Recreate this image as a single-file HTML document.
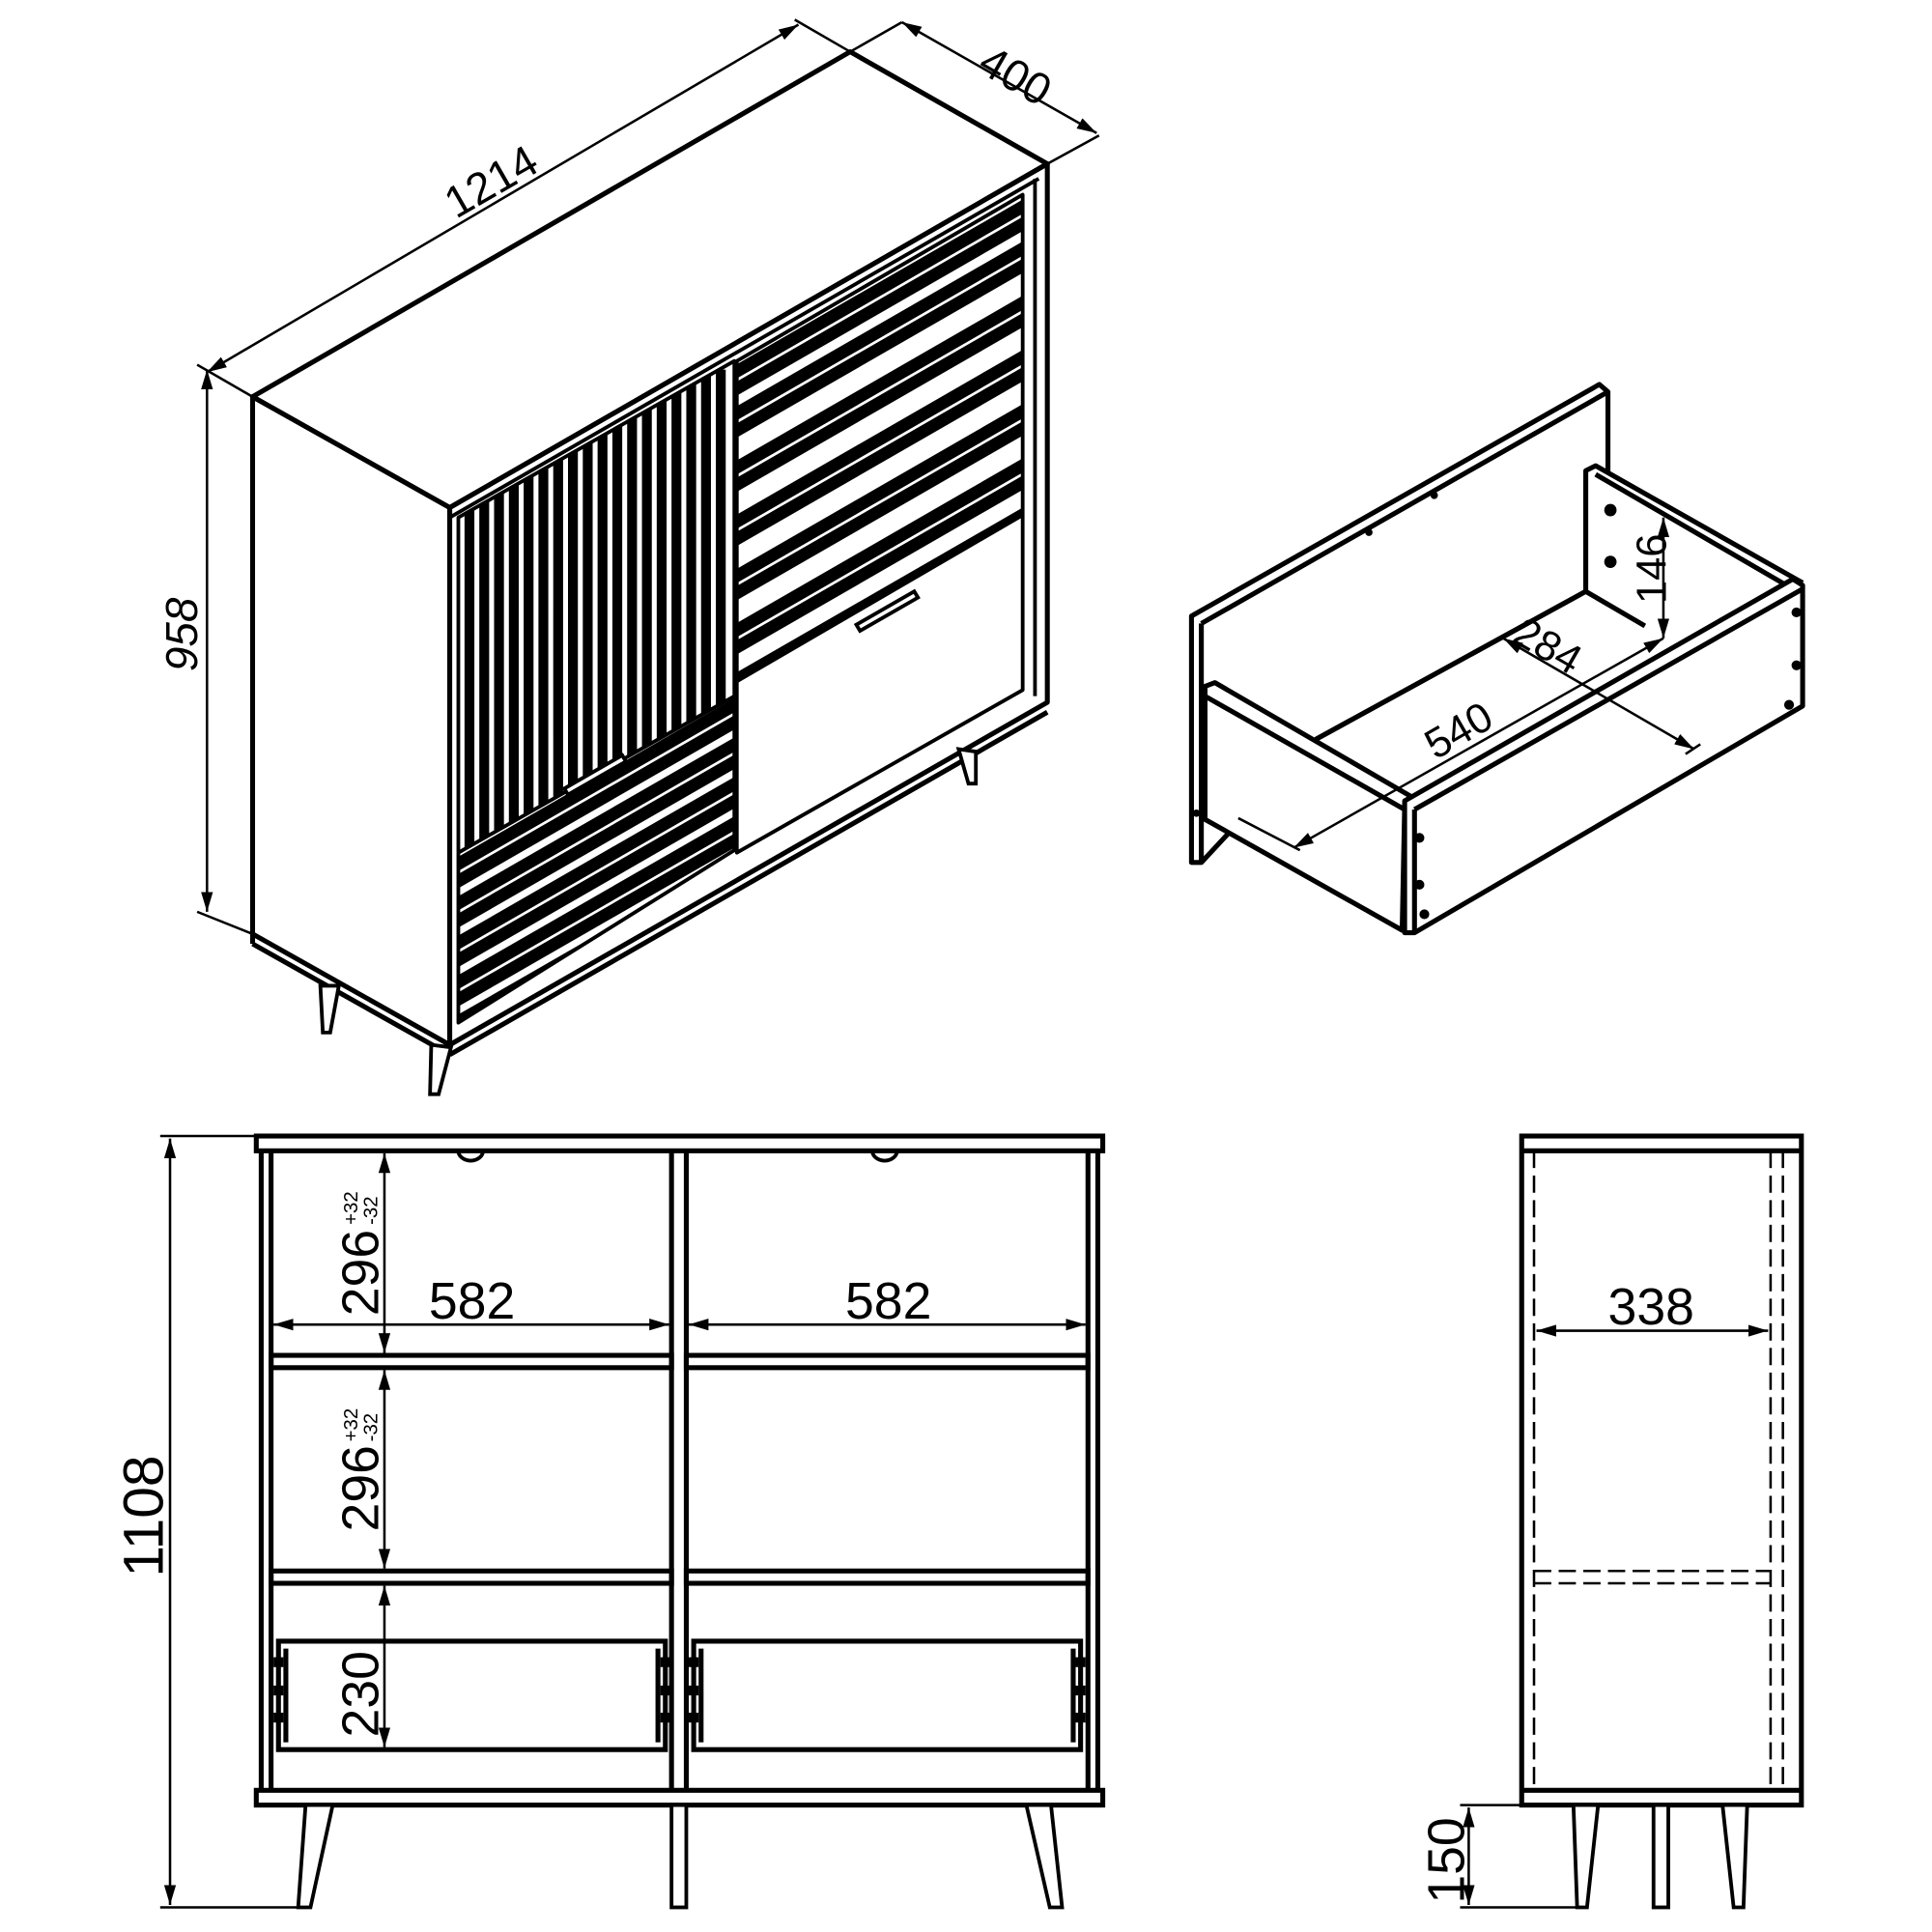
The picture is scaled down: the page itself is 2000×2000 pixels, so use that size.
<!DOCTYPE html>
<html><head><meta charset="utf-8"><style>
html,body{margin:0;padding:0;background:#fff}
svg{display:block}
text{font-family:"Liberation Sans","DejaVu Sans",sans-serif;fill:#000}
</style></head><body>
<svg width="2000" height="2000" viewBox="0 0 1568 1568" xmlns="http://www.w3.org/2000/svg">
<defs>
<marker id="a" viewBox="0 0 10 10" refX="10" refY="5" markerWidth="8" markerHeight="8" orient="auto-start-reverse"><path d="M0,2 L10,5 L0,8 z" fill="#000"/></marker>
<clipPath id="c1"><polygon points="372,420 596,293 596,565 372,692"/></clipPath>
<clipPath id="c2"><polygon points="372,692 596,565 596,690 372,830"/></clipPath>
<clipPath id="c3"><polygon points="598,293 830,158 830,418 598,553"/></clipPath>
</defs>
<g fill="none" stroke="#000" stroke-width="4" stroke-linejoin="round">
<polygon points="205,322 690,42 850,133 365,412" fill="#fff"/>
<polygon points="205,322 365,412 365,848 205,758" fill="#fff"/>
<polygon points="365,412 850,133 850,570 365,848" fill="#fff"/>
<line x1="365" y1="420" x2="843" y2="145" stroke-width="3"/>
<polygon points="372,420 596,293 596,690 372,830" fill="#fff" stroke-width="3"/>
<polygon points="598,293 830,158 830,560 598,692" fill="#fff" stroke-width="3"/>
<line x1="598" y1="553" x2="830" y2="418" stroke-width="3"/>
<line x1="372" y1="692" x2="596" y2="565" stroke-width="3"/>
<line x1="840" y1="145" x2="840" y2="565" stroke-width="3"/>
<line x1="205" y1="758" x2="205" y2="766" />
<line x1="205" y1="766" x2="365" y2="856"/>
<line x1="365" y1="856" x2="850" y2="578"/>
</g>
<g stroke="#000" stroke-width="8" clip-path="url(#c1)">
<path d="M381 300V830M393 300V830M405 300V830M417 300V830M429 300V830M441 300V830M453 300V830M465 300V830M477 300V830M489 300V830M501 300V830M513 300V830M525 300V830M537 300V830M549 300V830M561 300V830M573 300V830M585 300V830"/>
</g>
<g stroke="#000" stroke-width="10" clip-path="url(#c2)">
<path d="M360 708L600 570M360 722L600 584M360 740L600 602M360 754L600 616M360 772L600 634M360 786L600 648M360 804L600 666M360 818L600 680M360 836L600 698"/>
</g>
<g stroke="#000" stroke-width="10" clip-path="url(#c3)">
<path d="M590 306L840 162M590 320L840 176M590 340L840 196M590 354L840 210M590 384L840 240M590 398L840 254M590 428L840 284M590 442L840 298M590 472L840 328M590 486L840 342M590 516L840 372M590 530L840 386M590 556L840 412"/>
</g>
<g fill="#fff" stroke="#000" stroke-width="3">
<polygon points="458,640 505,613 508,618 461,645"/>
<polygon points="695,507 742,480 745,485 698,512"/>
<polygon points="260,800 275,800 268,838 262,838"/>
<polygon points="350,848 366,850 356,888 349,888"/>
<polygon points="778,608 792,610 792,636 786,636"/>
</g>
<g stroke="#000" stroke-width="2" fill="none">
<line x1="168" y1="302" x2="648" y2="20" marker-start="url(#a)" marker-end="url(#a)"/>
<line x1="160" y1="296" x2="205" y2="322"/><line x1="645" y1="16" x2="690" y2="42"/>
<line x1="690" y1="42" x2="732" y2="18"/><line x1="850" y1="133" x2="892" y2="110"/>
<line x1="732" y1="18" x2="890" y2="108" marker-start="url(#a)" marker-end="url(#a)"/>
<line x1="168" y1="300" x2="168" y2="740" marker-start="url(#a)" marker-end="url(#a)"/>
<line x1="160" y1="740" x2="205" y2="758"/>
</g>
<text x="0" y="0" font-size="36" transform="translate(370,178) rotate(-30)">1214</text>
<text x="0" y="0" font-size="36" transform="translate(792,57) rotate(30)">400</text>
<text x="0" y="0" font-size="36" transform="translate(160,545) rotate(-90)" font-style="italic">958</text>

<!-- drawer -->
<g fill="#fff" stroke="#000" stroke-width="4" stroke-linejoin="round">
<polygon points="967,500 1298,312 1305,318 1305,390 1287,390 1287,480 1068,600 975,700 967,700"/>
<line x1="975" y1="506" x2="1305" y2="318"/>
<line x1="975" y1="506" x2="975" y2="700"/>
<polygon points="1287,380 1295,378 1463,473 1148,650 1287,480" stroke="none"/>
<path d="M1287,480 V382 L1295,378 L1463,473 M1295,385 L1455,478 M1287,480 L1335,508" fill="none"/>
<polygon points="978,557 986,554 1148,648 1140,655 1138,755 978,665"/>
<line x1="978" y1="565" x2="1140" y2="657"/>
<polygon points="1140,650 1455,470 1463,475 1463,573 1148,757 1140,757"/>
<line x1="1148" y1="657" x2="1463" y2="478"/>
<line x1="1148" y1="657" x2="1148" y2="757"/>
<line x1="1068" y1="600" x2="1287" y2="480"/>
</g>
<g fill="#000">
<circle cx="1111" cy="432" r="3"/><circle cx="1164" cy="402" r="3"/>
<circle cx="1307" cy="414" r="5"/><circle cx="1307" cy="456" r="5"/>
<circle cx="1458" cy="497" r="4"/><circle cx="1458" cy="540" r="4"/><circle cx="1452" cy="572" r="4"/>
<circle cx="1152" cy="680" r="4"/><circle cx="1152" cy="718" r="4"/><circle cx="1156" cy="742" r="4"/>
<circle cx="971" cy="660" r="3"/>
</g>
<g stroke="#000" stroke-width="2" fill="none">
<line x1="1350" y1="420" x2="1350" y2="518" marker-start="url(#a)" marker-end="url(#a)"/>
<line x1="1220" y1="518" x2="1375" y2="608" marker-start="url(#a)" marker-end="url(#a)"/>
<line x1="1050" y1="688" x2="1350" y2="518" marker-start="url(#a)" marker-end="url(#a)"/>
<line x1="1005" y1="664" x2="1055" y2="690"/>
<line x1="1368" y1="612" x2="1380" y2="604"/>
</g>
<text font-size="34" transform="translate(1352,490) rotate(-90)">146</text>
<text font-size="34" transform="translate(1226,520) rotate(30)">284</text>
<text font-size="34" transform="translate(1165,617) rotate(-30)">540</text>

<!-- front view -->
<g fill="none" stroke="#000" stroke-width="4">
<rect x="208" y="922" width="687" height="12" fill="#fff"/>
<rect x="208" y="1453" width="687" height="12" fill="#fff"/>
<line x1="212" y1="934" x2="212" y2="1453"/><line x1="220" y1="934" x2="220" y2="1453"/>
<line x1="891" y1="934" x2="891" y2="1453"/><line x1="883" y1="934" x2="883" y2="1453"/>
<line x1="545" y1="934" x2="545" y2="1453"/><line x1="557" y1="934" x2="557" y2="1453"/>
<rect x="220" y="1100" width="325" height="10"/><rect x="557" y="1100" width="326" height="10"/>
<rect x="220" y="1275" width="325" height="10"/><rect x="557" y="1275" width="326" height="10"/>
<path d="M226 1332H540V1420H226Z M232 1338V1414M534 1338V1414"/>
<path d="M563 1332H877V1420H563Z M569 1338V1414M871 1338V1414"/>
<path d="M372 934a10 8 0 0 0 20 0 M708 934a10 8 0 0 0 20 0" stroke-width="3"/>
<polygon points="248,1465 270,1465 252,1548 242,1548" fill="#fff" stroke-width="3"/>
<polygon points="833,1465 853,1465 862,1548 852,1548" fill="#fff" stroke-width="3"/>
<rect x="545" y="1465" width="12" height="83" fill="#fff" stroke-width="3"/>
</g>
<g fill="#000"><rect x="222" y="1345" width="8" height="8"/><rect x="222" y="1368" width="8" height="8"/><rect x="222" y="1390" width="8" height="8"/>
<rect x="536" y="1345" width="8" height="8"/><rect x="536" y="1368" width="8" height="8"/><rect x="536" y="1390" width="8" height="8"/>
<rect x="559" y="1345" width="8" height="8"/><rect x="559" y="1368" width="8" height="8"/><rect x="559" y="1390" width="8" height="8"/>
<rect x="873" y="1345" width="8" height="8"/><rect x="873" y="1368" width="8" height="8"/><rect x="873" y="1390" width="8" height="8"/></g>
<g stroke="#000" stroke-width="2" fill="none">
<line x1="222" y1="1075" x2="543" y2="1075" marker-start="url(#a)" marker-end="url(#a)"/>
<line x1="559" y1="1075" x2="881" y2="1075" marker-start="url(#a)" marker-end="url(#a)"/>
<line x1="312" y1="936" x2="312" y2="1098" marker-start="url(#a)" marker-end="url(#a)"/>
<line x1="312" y1="1112" x2="312" y2="1273" marker-start="url(#a)" marker-end="url(#a)"/>
<line x1="312" y1="1287" x2="312" y2="1418" marker-start="url(#a)" marker-end="url(#a)"/>
<line x1="138" y1="924" x2="138" y2="1546" marker-start="url(#a)" marker-end="url(#a)"/>
<line x1="130" y1="922" x2="208" y2="922"/><line x1="130" y1="1548" x2="250" y2="1548"/>
</g>
<text x="348" y="1070" font-size="42">582</text>
<text x="686" y="1070" font-size="42">582</text>
<text font-size="42" transform="translate(307,1068) rotate(-90)">296</text>
<text font-size="16" transform="translate(290,994) rotate(-90)">+32</text>
<text font-size="16" transform="translate(306,994) rotate(-90)">-32</text>
<text font-size="42" transform="translate(307,1243) rotate(-90)">296</text>
<text font-size="16" transform="translate(290,1170) rotate(-90)">+32</text>
<text font-size="16" transform="translate(306,1170) rotate(-90)">-32</text>
<text font-size="42" transform="translate(307,1410) rotate(-90)">230</text>
<text font-size="46" transform="translate(132,1280) rotate(-90)">1108</text>

<!-- side view -->
<g fill="none" stroke="#000" stroke-width="4">
<rect x="1235" y="922" width="227" height="543" fill="#fff"/>
<line x1="1235" y1="934" x2="1462" y2="934"/><line x1="1235" y1="1453" x2="1462" y2="1453"/>
<polygon points="1277,1465 1297,1465 1288,1548 1280,1548" fill="#fff" stroke-width="3"/>
<rect x="1342" y="1465" width="12" height="83" fill="#fff" stroke-width="3"/>
<polygon points="1398,1465 1418,1465 1415,1548 1407,1548" fill="#fff" stroke-width="3"/>
</g>
<g stroke="#000" stroke-width="2" stroke-dasharray="14,6" fill="none">
<line x1="1245" y1="934" x2="1245" y2="1453"/>
<line x1="1437" y1="934" x2="1437" y2="1453"/><line x1="1447" y1="934" x2="1447" y2="1453"/>
<line x1="1245" y1="1275" x2="1437" y2="1275"/><line x1="1245" y1="1285" x2="1437" y2="1285"/>
</g>
<g stroke="#000" stroke-width="2" fill="none">
<line x1="1247" y1="1080" x2="1435" y2="1080" marker-start="url(#a)" marker-end="url(#a)"/>
<line x1="1192" y1="1467" x2="1192" y2="1546" marker-start="url(#a)" marker-end="url(#a)"/>
<line x1="1185" y1="1465" x2="1235" y2="1465"/><line x1="1185" y1="1548" x2="1280" y2="1548"/>
</g>
<text x="1305" y="1075" font-size="42">338</text>
<text font-size="42" transform="translate(1188,1545) rotate(-90)">150</text>
</svg>
</body></html>
